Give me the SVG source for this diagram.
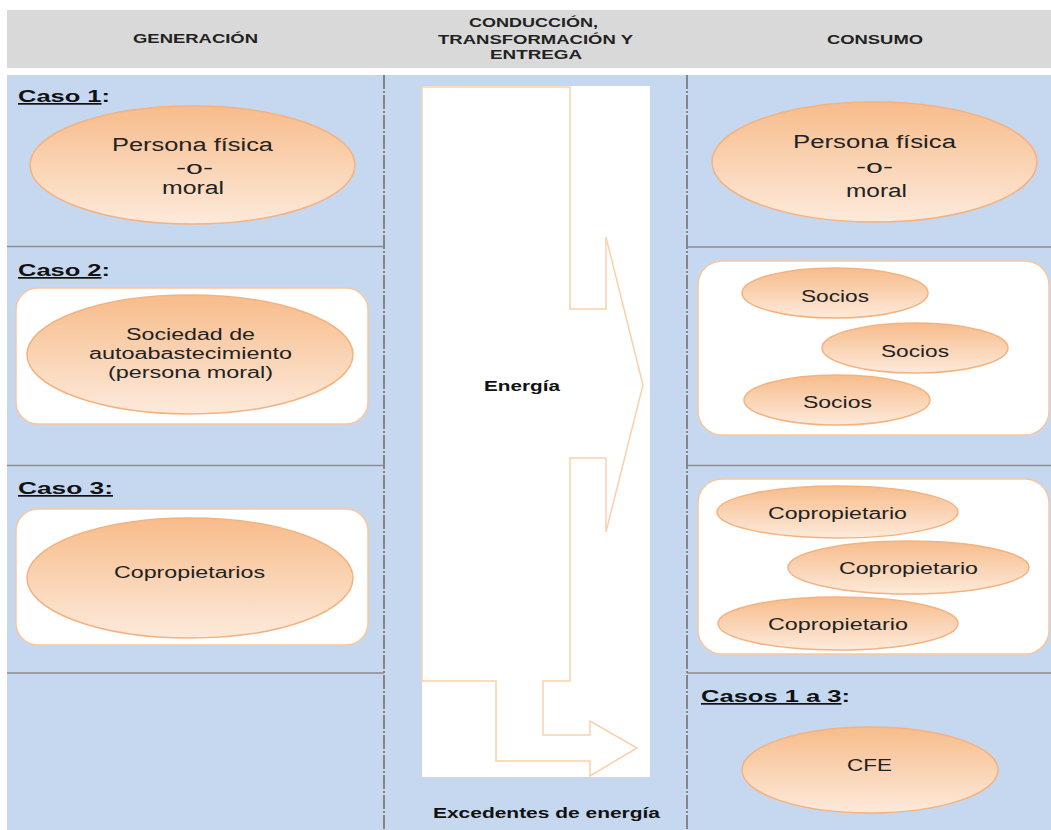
<svg xmlns="http://www.w3.org/2000/svg" width="1051" height="830" viewBox="0 0 1051 830">
<style>
text{font-family:"Liberation Sans",Arial,sans-serif;fill:#222}
.hd{font-size:12px;font-weight:bold}
.lbl{font-size:17px;font-weight:bold;fill:#111}
.t{font-size:16px}
.tb{font-size:18px}
.b{font-size:15px;font-weight:bold;fill:#111}
.ell{fill:url(#og);stroke:#f4b27f;stroke-width:1.5}
.box{fill:#fff;stroke:#f8c79f;stroke-width:1.5}
.sep{stroke:#8c8c8c;stroke-width:1.5}
.div{stroke:#858585;stroke-width:2;stroke-dasharray:14 2 2 2}
</style>
<defs>
<linearGradient id="og" x1="0" y1="0" x2="0" y2="1">
<stop offset="0" stop-color="#f7bc8b"/>
<stop offset="1" stop-color="#fdeadb"/>
</linearGradient>
</defs>
<rect width="1051" height="830" fill="#fff"/>
<g id="header">
<rect x="7" y="10" width="1044" height="58" fill="#d9d9d9"/>
<text class="hd" x="133" y="43" textLength="125" lengthAdjust="spacingAndGlyphs">GENERACIÓN</text>
<text class="hd" x="469" y="27" textLength="129" lengthAdjust="spacingAndGlyphs">CONDUCCIÓN,</text>
<text class="hd" x="438" y="44" textLength="195" lengthAdjust="spacingAndGlyphs">TRANSFORMACIÓN Y</text>
<text class="hd" x="490" y="59" textLength="92" lengthAdjust="spacingAndGlyphs">ENTREGA</text>
<text class="hd" x="827" y="44" textLength="96" lengthAdjust="spacingAndGlyphs">CONSUMO</text>
</g>
<g id="background">
<rect x="7" y="75" width="1044" height="755" fill="#c6d8ef"/>
<line class="sep" x1="7" y1="246.5" x2="384" y2="246.5"/>
<line class="sep" x1="7" y1="465.5" x2="384" y2="465.5"/>
<line class="sep" x1="7" y1="673" x2="384" y2="673"/>
<line class="sep" x1="687" y1="247" x2="1051" y2="247"/>
<line class="sep" x1="687" y1="465.5" x2="1051" y2="465.5"/>
<line class="sep" x1="687" y1="673" x2="1051" y2="673"/>
<line class="div" x1="384" y1="75" x2="384" y2="830"/>
<line class="div" x1="687" y1="75" x2="687" y2="830"/>
<rect x="422" y="86" width="228" height="691" fill="#fff"/>
</g>
<g id="connectors">
<polygon points="422,87 570,87 570,309 606,309 606,237 643,385 606,532 606,458 570,458 570,681 543,681 543,735 590,735 590,721 637,748 590,776 590,761 496,761 496,681 422,681" fill="none" stroke="#fbcfa9" stroke-width="1.5"/>
<text class="b" x="484" y="391" textLength="76" lengthAdjust="spacingAndGlyphs">Energía</text>
<text class="b" x="433" y="818" textLength="227" lengthAdjust="spacingAndGlyphs">Excedentes de energía</text>
</g>
<g id="caso1-gen">
<text class="lbl" x="18" y="102" textLength="92" lengthAdjust="spacingAndGlyphs"><tspan text-decoration="underline">Caso 1</tspan>:</text>
<ellipse class="ell" cx="192.5" cy="165" rx="162.5" ry="59"/>
<text class="tb" x="112" y="151" textLength="161" lengthAdjust="spacingAndGlyphs">Persona física</text>
<text class="tb" x="176" y="174" textLength="37" lengthAdjust="spacingAndGlyphs">-o-</text>
<text class="tb" x="162" y="194" textLength="62" lengthAdjust="spacingAndGlyphs">moral</text>
</g>
<g id="caso2-gen">
<text class="lbl" x="18" y="276" textLength="92" lengthAdjust="spacingAndGlyphs"><tspan text-decoration="underline">Caso 2</tspan>:</text>
<rect class="box" x="16" y="288" width="352" height="136" rx="22"/>
<ellipse class="ell" cx="190" cy="354.5" rx="163" ry="59.5"/>
<text class="t" x="126" y="340" textLength="129" lengthAdjust="spacingAndGlyphs">Sociedad de</text>
<text class="t" x="89" y="359" textLength="203" lengthAdjust="spacingAndGlyphs">autoabastecimiento</text>
<text class="t" x="108" y="378" textLength="165" lengthAdjust="spacingAndGlyphs">(persona moral)</text>
</g>
<g id="caso3-gen">
<text class="lbl" x="18" y="494" textLength="95" lengthAdjust="spacingAndGlyphs" text-decoration="underline">Caso 3:</text>
<rect class="box" x="16" y="509" width="352" height="136" rx="22"/>
<ellipse class="ell" cx="190" cy="578" rx="163" ry="60"/>
<text class="t" x="114" y="578" textLength="151" lengthAdjust="spacingAndGlyphs">Copropietarios</text>
</g>
<g id="caso1-con">
<ellipse class="ell" cx="874.5" cy="162" rx="162.5" ry="60"/>
<text class="tb" x="793" y="148" textLength="163" lengthAdjust="spacingAndGlyphs">Persona física</text>
<text class="tb" x="856" y="173" textLength="37" lengthAdjust="spacingAndGlyphs">-o-</text>
<text class="tb" x="846" y="197" textLength="61" lengthAdjust="spacingAndGlyphs">moral</text>
</g>
<g id="caso2-con">
<rect class="box" x="698" y="261" width="351" height="174" rx="24"/>
<ellipse class="ell" cx="835" cy="293" rx="93" ry="25"/>
<text class="t" x="801" y="302" textLength="68" lengthAdjust="spacingAndGlyphs">Socios</text>
<ellipse class="ell" cx="915" cy="348" rx="93" ry="25"/>
<text class="t" x="881" y="357" textLength="68" lengthAdjust="spacingAndGlyphs">Socios</text>
<ellipse class="ell" cx="837" cy="400" rx="93" ry="25"/>
<text class="t" x="803" y="408" textLength="69" lengthAdjust="spacingAndGlyphs">Socios</text>
</g>
<g id="caso3-con">
<rect class="box" x="698" y="479" width="351" height="175" rx="24"/>
<ellipse class="ell" cx="837.5" cy="512" rx="120.5" ry="26"/>
<text class="t" x="768" y="519" textLength="139" lengthAdjust="spacingAndGlyphs">Copropietario</text>
<ellipse class="ell" cx="908.5" cy="567.5" rx="120.5" ry="26.5"/>
<text class="t" x="839" y="574" textLength="139" lengthAdjust="spacingAndGlyphs">Copropietario</text>
<ellipse class="ell" cx="838" cy="623.5" rx="120" ry="26.5"/>
<text class="t" x="768" y="630" textLength="140" lengthAdjust="spacingAndGlyphs">Copropietario</text>
</g>
<g id="cfe">
<text class="lbl" x="701" y="702" textLength="149" lengthAdjust="spacingAndGlyphs"><tspan text-decoration="underline">Casos 1 a 3</tspan>:</text>
<ellipse class="ell" cx="870" cy="770" rx="128" ry="43"/>
<text class="t" x="847" y="771" textLength="45" lengthAdjust="spacingAndGlyphs">CFE</text>
</g>
</svg>
